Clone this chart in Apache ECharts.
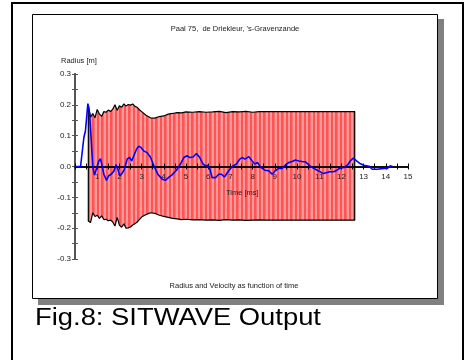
<!DOCTYPE html>
<html>
<head>
<meta charset="utf-8">
<script src="https://cdn.jsdelivr.net/npm/echarts@6/dist/echarts.min.js"></script>
<style>
  html, body { margin: 0; padding: 0; background: #fff; }
  #chart { width: 465px; height: 360px; }
</style>
</head>
<body>
<div id="chart"></div>
<script>
// radius envelope (ms, m)
const envTime = [0.6, 0.7, 0.8, 0.9, 1.0, 1.1, 1.2, 1.3, 1.4, 1.5, 1.6, 1.7, 1.8, 1.9, 2.0, 2.1, 2.2, 2.3, 2.4, 2.5,
  2.6, 2.7, 2.8, 2.9, 3.0, 3.2, 3.4, 3.6, 3.8, 4.0, 4.2, 4.4, 4.6, 4.8, 5.0, 5.3, 5.6, 5.9, 6.2, 6.5,
  6.8, 7.1, 7.4, 7.7, 8.0, 8.3, 8.6, 12.6];
const envTop = [0.200, 0.160, 0.172, 0.158, 0.185, 0.170, 0.163, 0.178, 0.176, 0.183, 0.178, 0.186, 0.200, 0.182, 0.197, 0.192, 0.203, 0.196, 0.201, 0.199,
  0.203, 0.195, 0.192, 0.184, 0.178, 0.166, 0.158, 0.157, 0.162, 0.164, 0.170, 0.172, 0.175, 0.174, 0.177, 0.176, 0.178, 0.176, 0.177, 0.179,
  0.175, 0.178, 0.177, 0.179, 0.176, 0.178, 0.178, 0.178];
const envBottom = [-0.177, -0.182, -0.150, -0.162, -0.158, -0.168, -0.160, -0.172, -0.171, -0.176, -0.174, -0.180, -0.193, -0.165, -0.190, -0.197, -0.186, -0.200, -0.199, -0.196,
  -0.190, -0.186, -0.180, -0.172, -0.164, -0.156, -0.150, -0.152, -0.158, -0.162, -0.165, -0.168, -0.170, -0.172, -0.171, -0.173, -0.172, -0.174, -0.173, -0.175,
  -0.172, -0.174, -0.173, -0.175, -0.174, -0.173, -0.174, -0.174];

// velocity curve (blue)
const velTime = [0, 0.25, 0.4, 0.47, 0.58, 0.66, 0.72, 0.8, 0.88, 0.97, 1.07, 1.15, 1.22, 1.3, 1.42, 1.52, 1.63, 1.75, 1.85, 1.93,
  2.02, 2.12, 2.22, 2.35, 2.45, 2.55, 2.65, 2.77, 2.87, 2.97, 3.1, 3.25, 3.4, 3.55, 3.73, 3.93, 4.07, 4.22, 4.37, 4.57,
  4.75, 4.9, 5.05, 5.17, 5.32, 5.47, 5.62, 5.77, 5.88, 5.98, 6.07, 6.18, 6.33, 6.48, 6.6, 6.73, 6.82, 6.97, 7.12, 7.27,
  7.42, 7.53, 7.65, 7.83, 7.98, 8.1, 8.22, 8.37, 8.55, 8.73, 8.88, 9.03, 9.18, 9.33, 9.48, 9.63, 9.78, 9.93, 10.08, 10.23,
  10.38, 10.53, 10.68, 10.83, 11.02, 11.17, 11.32, 11.47, 11.65, 11.8, 11.95, 12.13, 12.28, 12.4, 12.53, 12.68, 12.83, 13.01, 13.24, 13.39,
  13.62, 13.92, 14.07, 14.2, 14.3];
const velValue = [0, 0, 0.094, 0.115, 0.204, 0.17, 0.1, 0.0, -0.028, -0.025, 0.018, 0.025, 0.003, -0.025, -0.045, -0.03, -0.025, -0.015, 0.006, -0.008,
  -0.03, -0.022, -0.01, 0.024, 0.03, 0.018, 0.035, 0.056, 0.066, 0.062, 0.05, 0.045, 0.03, 0.003, -0.025, -0.041, -0.045, -0.035, -0.027, -0.012,
  0.008, 0.029, 0.035, 0.029, 0.031, 0.042, 0.029, 0.008, 0.002, 0.004, -0.008, -0.036, -0.036, -0.025, -0.025, -0.034, -0.03, -0.009, 0.002, 0.008,
  0.024, 0.029, 0.024, 0.032, 0.018, 0.008, 0.013, -0.003, -0.012, -0.014, -0.025, -0.013, -0.006, -0.006, 0.005, 0.013, 0.016, 0.021, 0.018, 0.016,
  0.015, 0.005, -0.003, -0.009, -0.016, -0.023, -0.02, -0.017, -0.017, -0.012, -0.005, -0.003, 0.005, 0.018, 0.027, 0.018, 0.01, 0.004, 0.001, -0.009,
  -0.009, -0.006, -0.006, 0.002, 0];

// striped red fill like the original plot
function stripePattern() {
  const c = document.createElement('canvas');
  c.width = 9; c.height = 4;
  const ctx = c.getContext('2d');
  const cols = ['#ff9a9a', '#ff9a9a', '#ff5454', '#ff5454', '#ff7070', '#ff9a9a', '#ff9a9a', '#ff5454', '#ff5454'];
  cols.forEach((col, i) => { ctx.fillStyle = col; ctx.fillRect(i, 0, 1, 4); });
  return c;
}

const last = envTime.length - 1;
const topData = [[envTime[0], 0]].concat(envTime.map((t, i) => [t, envTop[i]]), [[envTime[last], 0]]);
const bottomData = [[envTime[0], 0]].concat(envTime.map((t, i) => [t, envBottom[i]]), [[envTime[last], 0]]);
const velData = velTime.map((t, i) => [t, velValue[i]]);

const FONT = 'Liberation Sans, Arial, sans-serif';
const pattern = { image: stripePattern(), repeat: 'repeat' };

// x axis drawn across the middle of the grid (value 0)
const xBase = {
  type: 'value', min: 0, max: 15, interval: 0.5, z: 3, position: 'bottom', offset: -92.5,
  axisLine: { onZero: false, lineStyle: { color: '#000', width: 1.5 } },
  splitLine: { show: false }
};
const yBase = {
  type: 'value', min: -0.3, max: 0.3, interval: 0.1, position: 'left', offset: 0,
  axisLine: { show: true, lineStyle: { color: '#555', width: 2 } },
  splitLine: { show: false }
};

const chart = echarts.init(document.getElementById('chart'));
chart.setOption({
  animation: false,
  grid: { left: 75, top: 74, width: 333, height: 185 },
  xAxis: [
    Object.assign({}, xBase, {
      axisTick: { length: 3, lineStyle: { color: '#000' } },
      axisLabel: {
        fontFamily: FONT, fontSize: 8, color: '#222', margin: 6,
        formatter: v => (v > 0 && Math.abs(v - Math.round(v)) < 1e-9) ? String(Math.round(v)) : ''
      }
    }),
    Object.assign({}, xBase, {
      axisTick: { inside: true, length: 3, lineStyle: { color: '#000' } },
      axisLabel: { show: false }
    })
  ],
  yAxis: [
    Object.assign({}, yBase, {
      axisTick: { show: true, length: 3, lineStyle: { color: '#555' } },
      minorTick: { show: true, splitNumber: 2, length: 3, lineStyle: { color: '#555' } },
      axisLabel: {
        fontFamily: FONT, fontSize: 8, color: '#222', margin: 4,
        formatter: v => Math.abs(v) < 1e-9 ? '0.0' : v.toFixed(1)
      }
    }),
    Object.assign({}, yBase, {
      axisTick: { show: true, inside: true, length: 3, lineStyle: { color: '#555' } },
      minorTick: { show: true, splitNumber: 2, length: 3, lineStyle: { color: '#555' } },
      axisLabel: { show: false }
    })
  ],
  graphic: [
    { type: 'polyline', z: -10, shape: { points: [[12, 362], [12, 3], [463, 3], [463, 362]] },
      style: { stroke: '#000', lineWidth: 2, fill: null } },
    { type: 'rect', z: -10, shape: { x: 38, y: 19, width: 406, height: 286 }, style: { fill: '#808080' } },
    { type: 'rect', z: -9, shape: { x: 32.5, y: 14.5, width: 405, height: 284 },
      style: { fill: '#fff', stroke: '#000', lineWidth: 1 } },
    { type: 'text', z: 10, x: 235, y: 29,
      style: { text: "Paal 75,  de Driekleur, 's-Gravenzande", font: '7.5px ' + FONT, fill: '#222', textAlign: 'center', textVerticalAlign: 'middle' } },
    { type: 'text', z: 10, x: 61, y: 61,
      style: { text: 'Radius [m]', font: '7.5px ' + FONT, fill: '#222', textAlign: 'left', textVerticalAlign: 'middle' } },
    { type: 'text', z: 10, x: 226, y: 193,
      style: { text: 'Time [ms]', font: '7.5px ' + FONT, fill: '#222', textAlign: 'left', textVerticalAlign: 'middle' } },
    { type: 'text', z: 10, x: 234, y: 286,
      style: { text: 'Radius and Velocity as function of time', font: '7.5px ' + FONT, fill: '#222', textAlign: 'center', textVerticalAlign: 'middle' } },
    { type: 'text', z: 10, x: 35, y: 319, scaleX: 1.19,
      style: { text: 'Fig.8: SITWAVE Output', font: '23px ' + FONT, fill: '#000', textAlign: 'left', textVerticalAlign: 'middle' } }
  ],
  series: [
    { name: 'Radius top', type: 'line', data: topData, showSymbol: false, z: 2,
      lineStyle: { color: '#000', width: 1.2 }, areaStyle: { color: pattern, opacity: 1 } },
    { name: 'Radius bottom', type: 'line', data: bottomData, showSymbol: false, z: 2,
      lineStyle: { color: '#000', width: 1.2 }, areaStyle: { color: pattern, opacity: 1 } },
    { name: 'Velocity', type: 'line', data: velData, showSymbol: false, z: 5,
      lineStyle: { color: '#0000ff', width: 1.6 } }
  ]
});
</script>
</body>
</html>
